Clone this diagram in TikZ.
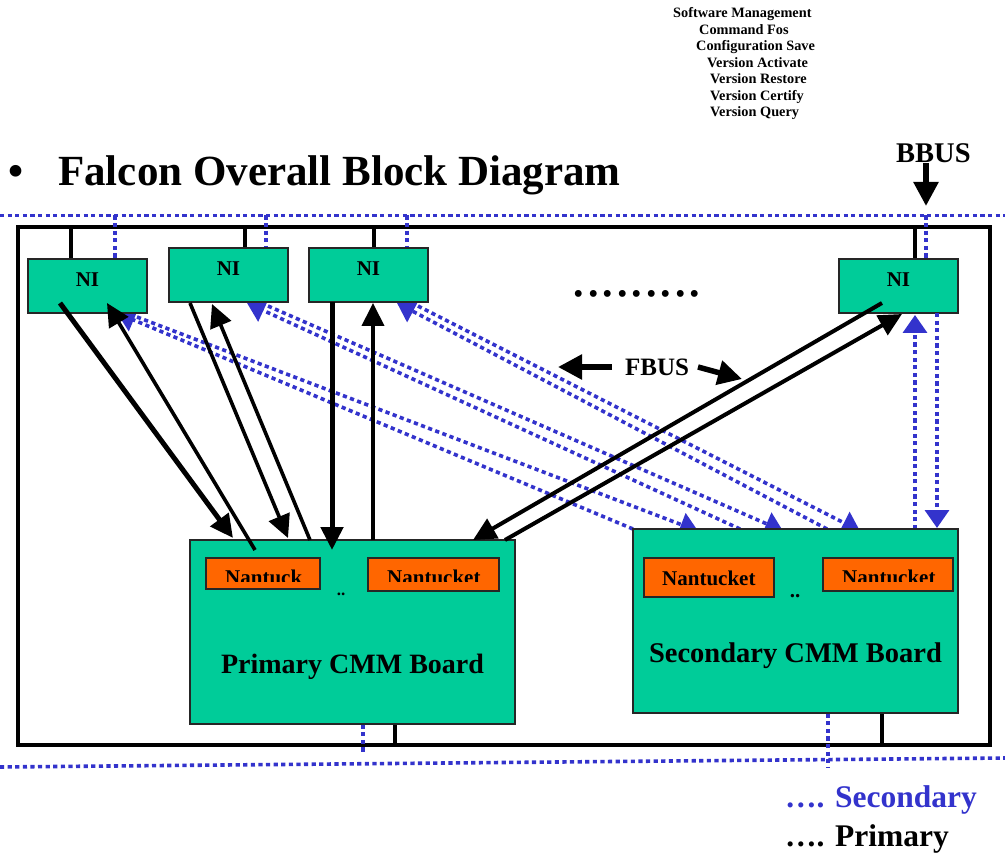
\documentclass[tikz,border=0pt]{standalone}
\usepackage{fontspec}
\setmainfont{Liberation Serif}
\usetikzlibrary{arrows.meta}
\definecolor{busblue}{HTML}{3333CC}
\definecolor{boardgreen}{HTML}{00CC99}
\definecolor{chiporange}{HTML}{FF6600}

\begin{document}
\begin{tikzpicture}[x=1pt,y=-1pt,
  box/.style={draw=black!85, line width=1.3pt, fill=boardgreen, inner sep=0pt},
  nibox/.style={box, minimum width=119pt, minimum height=54pt},
  board/.style={box, minimum width=325pt, minimum height=184pt},
  chip/.style={draw=black!85, line width=1.3pt, fill=chiporange, inner sep=0pt},
  txt/.style={inner sep=0pt, font=\bfseries\fontsize{#1}{#1}\selectfont},
  txt/.default=21,
  sec/.style={busblue, line width=3.6pt, dash pattern=on 4.2pt off 3.4pt},
  secarrow/.style={sec, -{Triangle[length=18pt,width=24pt]}},
  prim/.style={black, line width=4pt},
  primarrow/.style={prim, -{Triangle[length=23pt,width=22pt]}},
  bigarrow/.style={black, line width=5.5pt, -{Triangle[length=24pt,width=24pt]}},
]
\useasboundingbox (0,0) rectangle (1005,853);

% ---------- notes and title ----------
\node[txt=14.3, anchor=base west] (sw1) at (673,18) {Software Management};
\node[txt=14.3, anchor=base west] (sw2) at (699,35) {Command Fos};
\node[txt=14.3, anchor=base west] (sw3) at (696,51) {Configuration Save};
\node[txt=14.3, anchor=base west] (sw4) at (707,68) {Version Activate};
\node[txt=14.3, anchor=base west] (sw5) at (710,84) {Version Restore};
\node[txt=14.3, anchor=base west] (sw6) at (710,101) {Version Certify};
\node[txt=14.3, anchor=base west] (sw7) at (710,117) {Version Query};

\node[txt=43, anchor=base west] (bullet) at (8,186) {•};
\node[txt=43, anchor=base west] (title) at (58,186) {Falcon Overall Block Diagram};

\node[txt=28.5, anchor=base west] (bbus) at (896,163) {BBUS};
\coordinate (bbusin) at (926,206);
\draw[bigarrow] (bbus.base -| bbusin) -- (bbusin);

% ---------- chassis and buses ----------
\draw[line width=4pt] (18,227) rectangle (990,745);
\draw[sec] (0,215.5) -- (1005,215.5);
\draw[sec] (0,767) -- (1005,758);

% ---------- connection points ----------
\coordinate (ni1top) at (71,227);   \coordinate (ni1bus) at (115,215.5);
\coordinate (ni2top) at (245,227);  \coordinate (ni2bus) at (266,215.5);
\coordinate (ni3top) at (374,227);  \coordinate (ni3bus) at (407,215.5);
\coordinate (ni4top) at (915,227);  \coordinate (ni4bus) at (926,215.5);

% secondary (dotted) links between NI cards and the secondary board
\coordinate (s1a) at (633,529); \coordinate (s1b) at (117,313);
\coordinate (s1c) at (137,317); \coordinate (s1d) at (698,531);
\coordinate (s2a) at (740,529); \coordinate (s2b) at (247,303);
\coordinate (s2c) at (268,306); \coordinate (s2d) at (783,531);
\coordinate (s3a) at (827,529); \coordinate (s3b) at (397,303);
\coordinate (s3c) at (418,306); \coordinate (s3d) at (860,531);
\coordinate (s4a) at (915,529); \coordinate (s4b) at (915,315);
\coordinate (s4c) at (937,313); \coordinate (s4d) at (937,528);

\draw[secarrow] (s1a) -- (s1b);
\draw[secarrow] (s1c) -- (s1d);
\draw[secarrow] (s2a) -- (s2b);
\draw[secarrow] (s2c) -- (s2d);
\draw[secarrow] (s3a) -- (s3b);
\draw[secarrow] (s3c) -- (s3d);

% ---------- NI cards ----------
\node[nibox] (ni1) at (87.5,286) {};
\node[nibox] (ni2) at (228.5,275) {};
\node[nibox] (ni3) at (368.5,275) {};
\node[nibox] (ni4) at (898.5,286) {};
\node[txt, anchor=base] (ni1t) at (87.5,287) {NI};
\node[txt, anchor=base] (ni2t) at (228.5,276) {NI};
\node[txt, anchor=base] (ni3t) at (368.5,276) {NI};
\node[txt, anchor=base] (ni4t) at (898.5,287) {NI};

% card feeds from the buses
\draw[prim] (ni1top) -- (ni1top |- ni1.north);
\draw[prim] (ni2top) -- (ni2top |- ni2.north);
\draw[prim] (ni3top) -- (ni3top |- ni3.north);
\draw[prim] (ni4top) -- (ni4top |- ni4.north);
\draw[sec] (ni1bus) -- (ni1bus |- ni1.north);
\draw[sec] (ni2bus) -- (ni2bus |- ni2.north);
\draw[sec] (ni3bus) -- (ni3bus |- ni3.north);
\draw[sec] (ni4bus) -- (ni4bus |- ni4.north);

\draw[secarrow] (s4a) -- (s4b);
\draw[secarrow] (s4c) -- (s4d);

% ---------- CMM boards ----------
\node[board] (pcmm) at (352.5,632) {};
\node[board] (scmm) at (795.5,621) {};

\node[chip, minimum width=114pt, minimum height=31pt] (pn1) at (263,573.5) {};
\node[chip, minimum width=131pt, minimum height=33pt] (pn2) at (433.5,574.5) {};
\node[chip, minimum width=130pt, minimum height=39pt] (sn1) at (709,577.5) {};
\node[chip, minimum width=130pt, minimum height=33pt] (sn2) at (888,574.5) {};

\begin{scope}
  \clip (0,0) rectangle (1005,581.5);
  \node[txt, anchor=base west] (pn1t) at (225,584.5) {Nantuck};
  \node[txt, anchor=base west] (pn2t) at (387,584.5) {Nantucket};
  \node[txt, anchor=base west] (sn2t) at (842,584.5) {Nantucket};
\end{scope}
\node[txt, anchor=base west] (sn1t) at (662,585) {Nantucket};
\node[txt=17, anchor=base] (pdots) at (341,595) {..};
\node[txt, anchor=base] (sdots) at (795,597) {..};

\node[txt=28, anchor=base] (ptitle) at (352.5,673) {Primary CMM Board};
\node[txt=28.5, anchor=base] (stitle) at (795.5,662) {Secondary CMM Board};

% board feeds to the lower buses
\coordinate (pbus) at (395,745);  \coordinate (pbus2) at (363,752);
\coordinate (sbus) at (882,745);  \coordinate (sbus2) at (828,767);
\draw[prim] (pbus |- pcmm.south) -- (pbus);
\draw[prim] (sbus |- scmm.south) -- (sbus);
\draw[sec] (pbus2 |- pcmm.south) -- (pbus2);
\draw[sec] (sbus2 |- scmm.south) -- (sbus2);

% ---------- primary (solid) links ----------
\coordinate (pa1) at (60,303);  \coordinate (pa2) at (233,538);
\coordinate (pb1) at (255,550); \coordinate (pb2) at (107,303);
\coordinate (pc1) at (190,303); \coordinate (pc2) at (288,538);
\coordinate (pd1) at (310,540); \coordinate (pd2) at (212,304);
\coordinate (pe1) at (332,302); \coordinate (pe2) at (332,550);
\coordinate (pf1) at (373,540); \coordinate (pf2) at (373,303);
\coordinate (pg1) at (882,303); \coordinate (pg2) at (473,540);
\coordinate (ph1) at (505,540); \coordinate (ph2) at (902,314);

\draw[primarrow, line width=5pt] (pa1) -- (pa2);
\draw[primarrow, line width=3.6pt] (pb1) -- (pb2);
\draw[primarrow, line width=3.6pt] (pc1) -- (pc2);
\draw[primarrow, line width=3.6pt] (pd1) -- (pd2);
\draw[primarrow, line width=5pt] (pe1) -- (pe2);
\draw[primarrow] (pf1) -- (pf2);
\draw[primarrow] (pg1) -- (pg2);
\draw[primarrow] (ph1) -- (ph2);

% ---------- fabric bus label ----------
\node[txt=25, anchor=base west] (fbus) at (625,375) {FBUS};
\coordinate (fls) at (612,367); \coordinate (fl) at (558,367);
\coordinate (frs) at (698,367); \coordinate (fr) at (742,379);
\draw[bigarrow] (fls) -- (fl);
\draw[bigarrow] (frs) -- (fr);

% ---------- dotted ellipsis between cards ----------
\node[inner sep=0pt, anchor=base, font=\fontsize{58}{58}\selectfont] (more) at (637,297) {.........};

% ---------- legend ----------
\node[txt=31.5, anchor=base west, text=busblue] (legsec) at (785,807) {…. Secondary};
\node[txt=31.5, anchor=base west] (legprim) at (785,846) {…. Primary};
\end{tikzpicture}
\end{document}
